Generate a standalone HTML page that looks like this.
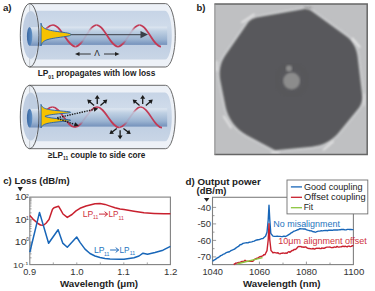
<!DOCTYPE html>
<html><head><meta charset="utf-8">
<style>
html,body{margin:0;padding:0;background:#fff;}
body{width:375px;height:291px;overflow:hidden;}
svg{display:block;}
text{font-family:"Liberation Sans",sans-serif;}
</style></head>
<body>
<svg width="375" height="291" viewBox="0 0 375 291">
<defs>
  <linearGradient id="clad" x1="0" y1="0" x2="0" y2="1">
    <stop offset="0" stop-color="#c6d4e6"/>
    <stop offset="0.3" stop-color="#cfdbea"/>
    <stop offset="0.65" stop-color="#bfcee2"/>
    <stop offset="1" stop-color="#c9d6e6"/>
  </linearGradient>
  <linearGradient id="core" x1="0" y1="0" x2="0" y2="1">
    <stop offset="0" stop-color="#dfe7f1"/>
    <stop offset="0.25" stop-color="#bfd0e3"/>
    <stop offset="0.7" stop-color="#9bb3d1"/>
    <stop offset="1" stop-color="#7491bb"/>
  </linearGradient>
  <linearGradient id="coreend" x1="0" y1="0" x2="1" y2="0">
    <stop offset="0" stop-color="#3a68a3"/>
    <stop offset="1" stop-color="#6090c4"/>
  </linearGradient>
  <linearGradient id="wfade" gradientUnits="userSpaceOnUse" x1="0" y1="24" x2="0" y2="47">
    <stop offset="0" stop-color="#c23a55"/>
    <stop offset="0.12" stop-color="#c23a55"/>
    <stop offset="0.3" stop-color="#c23a55" stop-opacity="0.15"/>
    <stop offset="0.7" stop-color="#c23a55" stop-opacity="0.1"/>
    <stop offset="0.88" stop-color="#c23a55"/>
    <stop offset="1" stop-color="#c23a55"/>
  </linearGradient>
  <filter id="bl" x="-5%" y="-5%" width="110%" height="110%"><feGaussianBlur stdDeviation="0.9"/></filter>
  <filter id="bl2" x="-50%" y="-50%" width="200%" height="200%"><feGaussianBlur stdDeviation="0.9"/></filter>
</defs>

<g transform="translate(0,0)">
<path d="M29.6,3.6 H165.5 A9.8,31.7 0 0 1 165.5,67 H29.6 Z" fill="#edf1f7" stroke="#5a5a5a" stroke-width="0.9"/>
<path d="M29.6,10.8 H165 A6.8,24.4 0 0 1 165,59.6 H29.6 Z" fill="url(#clad)"/>
<rect x="30" y="26.6" width="137.2" height="18.3" fill="url(#core)"/>
<path d="M28.8,45.5 C37.51,45.5 44.29,25 53,25 M75.5,46.6 C83.06,46.6 88.94,25 96.5,25 M118,46.6 C125.74,46.6 131.76,25 139.5,25" fill="none" stroke="url(#wfade)" stroke-width="1.7"/>
<ellipse cx="29.6" cy="35.3" rx="9.3" ry="31.7" fill="#e8edf4" fill-opacity="0.75"/>
<ellipse cx="30.7" cy="34.9" rx="8.2" ry="24" fill="#bccbdf" fill-opacity="0.92"/>
<rect x="29.5" y="27.2" width="11.5" height="18.6" fill="url(#core)"/>
<ellipse cx="29.6" cy="36.4" rx="2.7" ry="9.4" fill="url(#coreend)"/>
<line x1="70" y1="34.7" x2="142" y2="34.7" stroke="#3a3f48" stroke-width="1"/><path d="M148,34.6 L140.5,31 L140.5,38.2 Z" fill="#3a3f48"/>
<path d="M53,25 C61.1,25 67.4,46.6 75.5,46.6 M96.5,25 C104.24,25 110.26,46.6 118,46.6 M139.5,25 C147.24,25 153.26,46.6 161,46.6" fill="none" stroke="#c23a55" stroke-width="1.7"/>
<ellipse cx="29.6" cy="35.3" rx="9.3" ry="31.7" fill="none" stroke="#3c3c3c" stroke-width="0.8"/>
<path d="M41,23.2 L41,23.2 L41.1,23.58 L41.2,23.96 L41.32,24.34 L41.46,24.71 L41.62,25.09 L41.8,25.47 L42.01,25.85 L42.26,26.23 L42.54,26.61 L42.87,26.98 L43.27,27.36 L43.73,27.74 L44.27,28.12 L44.93,28.5 L45.7,28.88 L46.64,29.25 L47.76,29.63 L49.1,30.01 L50.71,30.39 L52.6,30.77 L54.79,31.14 L57.26,31.52 L59.94,31.9 L62.7,32.28 L65.31,32.66 L67.56,33.04 L69.26,33.41 L70.31,33.79 L70.8,34.17 L70.9,34.55 L70.85,34.93 L70.49,35.31 L69.6,35.69 L68.07,36.06 L65.95,36.44 L63.41,36.82 L60.67,37.2 L57.95,37.58 L55.42,37.95 L53.15,38.33 L51.18,38.71 L49.5,39.09 L48.09,39.47 L46.92,39.85 L45.94,40.22 L45.12,40.6 L44.43,40.98 L43.86,41.36 L43.38,41.74 L42.97,42.12 L42.63,42.5 L42.33,42.87 L42.08,43.25 L41.86,43.63 L41.67,44.01 L41.5,44.39 L41.36,44.77 L41.23,45.14 L41.12,45.52 L41.02,45.9 Z" fill="#f6c200" stroke="#1f5fa8" stroke-width="0.9" stroke-linejoin="round"/>
</g>
<g transform="translate(0,81.7)">
<path d="M29.6,3.6 H165.5 A9.8,31.7 0 0 1 165.5,67 H29.6 Z" fill="#edf1f7" stroke="#5a5a5a" stroke-width="0.9"/>
<path d="M29.6,10.8 H165 A6.8,24.4 0 0 1 165,59.6 H29.6 Z" fill="url(#clad)"/>
<rect x="30" y="26.6" width="137.2" height="18.3" fill="url(#core)"/>
<path d="M28.8,45.5 C37.33,45.5 43.97,25.3 52.5,25.3 M74.8,45.5 C82.79,45.5 89.01,25.3 97,25.3 M119.3,45.8 C127.04,45.8 133.06,25.3 140.8,25.3" fill="none" stroke="url(#wfade)" stroke-width="1.7"/>
<ellipse cx="29.6" cy="35.3" rx="9.3" ry="31.7" fill="#e8edf4" fill-opacity="0.75"/>
<ellipse cx="30.7" cy="34.9" rx="8.2" ry="24" fill="#bccbdf" fill-opacity="0.92"/>
<rect x="29.5" y="27.2" width="11.5" height="18.6" fill="url(#core)"/>
<ellipse cx="29.6" cy="36.4" rx="2.7" ry="9.4" fill="url(#coreend)"/>

<path d="M52.5,25.3 C60.53,25.3 66.77,45.5 74.8,45.5 M97,25.3 C105.03,25.3 111.27,45.8 119.3,45.8 M140.8,25.3 C148.43,25.3 154.37,46 162,46" fill="none" stroke="#c23a55" stroke-width="1.7"/>
<ellipse cx="29.6" cy="35.3" rx="9.3" ry="31.7" fill="none" stroke="#3c3c3c" stroke-width="0.8"/>
<path d="M41,22.7 L41,22.7 L41.11,23 L41.23,23.29 L41.36,23.59 L41.52,23.88 L41.69,24.18 L41.89,24.47 L42.12,24.77 L42.39,25.06 L42.7,25.36 L43.06,25.65 L43.49,25.95 L43.99,26.24 L44.59,26.54 L45.31,26.83 L46.18,27.12 L47.24,27.42 L48.52,27.72 L50.09,28.01 L51.99,28.3 L54.29,28.6 L56.99,28.9 L60.05,29.19 L63.3,29.48 L66.4,29.78 L68.88,30.08 L70.31,30.37 L70.58,30.66 L69.82,30.96 L67.89,31.26 L65.08,31.55 L61.86,31.84 L58.66,32.14 L55.75,32.44 L53.23,32.73 L51.11,33.02 L49.36,33.32 L47.92,33.62 L46.75,33.91 L45.78,34.2 L44.98,34.5 L45.22,34.8 L46.07,35.09 L47.1,35.38 L48.36,35.68 L49.89,35.98 L51.75,36.27 L53.99,36.56 L56.65,36.86 L59.67,37.16 L62.91,37.45 L66.05,37.74 L68.63,38.04 L70.2,38.34 L70.6,38.63 L69.98,38.92 L68.18,39.22 L65.44,39.52 L62.25,39.81 L59.03,40.1 L56.07,40.4 L53.5,40.7 L51.34,40.99 L49.55,41.28 L48.08,41.58 L46.87,41.88 L45.88,42.17 L45.07,42.46 L44.39,42.76 L43.82,43.05 L43.34,43.35 L42.94,43.64 L42.6,43.94 L42.3,44.23 L42.05,44.53 L41.83,44.82 L41.63,45.12 L41.47,45.41 L41.32,45.71 L41.19,46 L41.07,46.3 Z" fill="#f6c200" stroke="#1f5fa8" stroke-width="0.9" stroke-linejoin="round"/>
</g>
<line x1="78" y1="54" x2="90.8" y2="54" stroke="#222" stroke-width="0.9"/>
<path d="M75,54 L79.5,52 L79.5,56 Z" fill="#222"/>
<line x1="104" y1="54" x2="116.5" y2="54" stroke="#222" stroke-width="0.9"/>
<path d="M119.5,54 L115,52 L115,56 Z" fill="#222"/>

<line x1="57.2" y1="117.8" x2="93.81" y2="109.5" stroke="#1a1a1a" stroke-width="1.4" stroke-dasharray="1.4,1.1"/><path d="M98.2,108.5 L94.32,111.74 L93.3,107.25 Z" fill="#1a1a1a"/>
<line x1="57.6" y1="118.6" x2="74.54" y2="124.35" stroke="#1a1a1a" stroke-width="1.4" stroke-dasharray="1.4,1.1"/><path d="M78.8,125.8 L73.8,126.53 L75.28,122.18 Z" fill="#1a1a1a"/>
<line x1="97.25" y1="104.1" x2="97.25" y2="98.3" stroke="#1a1a1a" stroke-width="1.3"/><path d="M97.25,95 L99.75,98.8 L94.75,98.8 Z" fill="#1a1a1a"/>
<line x1="94.08" y1="105.54" x2="89.7" y2="101.74" stroke="#1a1a1a" stroke-width="1.3"/><path d="M87.21,99.57 L91.72,100.18 L88.44,103.95 Z" fill="#1a1a1a"/>
<line x1="100.42" y1="105.54" x2="104.8" y2="101.74" stroke="#1a1a1a" stroke-width="1.3"/><path d="M107.29,99.57 L106.06,103.95 L102.78,100.18 Z" fill="#1a1a1a"/>
<line x1="142.7" y1="104.1" x2="142.7" y2="98.3" stroke="#1a1a1a" stroke-width="1.3"/><path d="M142.7,95 L145.2,98.8 L140.2,98.8 Z" fill="#1a1a1a"/>
<line x1="139.53" y1="105.54" x2="135.15" y2="101.74" stroke="#1a1a1a" stroke-width="1.3"/><path d="M132.66,99.57 L137.17,100.18 L133.89,103.95 Z" fill="#1a1a1a"/>
<line x1="145.87" y1="105.54" x2="150.25" y2="101.74" stroke="#1a1a1a" stroke-width="1.3"/><path d="M152.74,99.57 L151.51,103.95 L148.23,100.18 Z" fill="#1a1a1a"/>
<line x1="120.1" y1="130.2" x2="120.1" y2="136" stroke="#1a1a1a" stroke-width="1.3"/><path d="M120.1,139.3 L117.6,135.5 L122.6,135.5 Z" fill="#1a1a1a"/>
<line x1="116.75" y1="128.53" x2="112.11" y2="132.02" stroke="#1a1a1a" stroke-width="1.3"/><path d="M109.48,134 L111.01,129.72 L114.02,133.71 Z" fill="#1a1a1a"/>
<line x1="123.45" y1="128.53" x2="128.09" y2="132.02" stroke="#1a1a1a" stroke-width="1.3"/><path d="M130.72,134 L126.18,133.71 L129.19,129.72 Z" fill="#1a1a1a"/>
<rect x="214.5" y="4" width="152.7" height="150.6" fill="#bfc0c2"/>
<path filter="url(#bl)" d="M247.4,23.4 L248.2,22.3 L249.1,21.3 L250.2,20.4 L251.3,19.6 L252.5,19.0 L253.7,18.4 L255.0,18.0 L256.4,17.6 L303.2,9.2 L304.3,9.1 L305.4,9.1 L306.4,9.2 L307.5,9.3 L308.6,9.6 L309.6,10.0 L310.6,10.5 L311.5,11.1 L345.6,35.7 L347.9,37.5 L350.1,39.6 L352.0,42.0 L353.6,44.5 L355.0,47.1 L356.1,49.9 L356.9,52.8 L357.5,55.7 L362.2,95.2 L362.3,97.0 L362.2,98.8 L362.0,100.6 L361.6,102.4 L361.0,104.1 L360.2,105.8 L359.3,107.3 L358.2,108.8 L339.0,132.2 L336.4,135.2 L333.5,137.8 L330.3,140.2 L326.9,142.2 L323.4,143.9 L319.7,145.2 L315.9,146.1 L312.0,146.7 L275.7,150.2 L275.5,150.2 L275.4,150.2 L275.2,150.2 L275.1,150.2 L275.0,150.1 L274.8,150.1 L274.7,150.0 L274.5,150.0 L247.3,135.6 L243.3,133.1 L239.5,130.3 L236.1,127.0 L233.1,123.4 L230.5,119.5 L228.4,115.4 L226.7,111.0 L225.5,106.4 L220.2,80.2 L219.8,77.0 L219.6,73.7 L219.8,70.4 L220.3,67.2 L221.1,64.1 L222.2,61.0 L223.7,58.1 L225.4,55.3 Z" fill="none" stroke="#cfd0d2" stroke-width="4" stroke-linejoin="round"/>
<path filter="url(#bl)" d="M247.4,23.4 L248.2,22.3 L249.1,21.3 L250.2,20.4 L251.3,19.6 L252.5,19.0 L253.7,18.4 L255.0,18.0 L256.4,17.6 L303.2,9.2 L304.3,9.1 L305.4,9.1 L306.4,9.2 L307.5,9.3 L308.6,9.6 L309.6,10.0 L310.6,10.5 L311.5,11.1 L345.6,35.7 L347.9,37.5 L350.1,39.6 L352.0,42.0 L353.6,44.5 L355.0,47.1 L356.1,49.9 L356.9,52.8 L357.5,55.7 L362.2,95.2 L362.3,97.0 L362.2,98.8 L362.0,100.6 L361.6,102.4 L361.0,104.1 L360.2,105.8 L359.3,107.3 L358.2,108.8 L339.0,132.2 L336.4,135.2 L333.5,137.8 L330.3,140.2 L326.9,142.2 L323.4,143.9 L319.7,145.2 L315.9,146.1 L312.0,146.7 L275.7,150.2 L275.5,150.2 L275.4,150.2 L275.2,150.2 L275.1,150.2 L275.0,150.1 L274.8,150.1 L274.7,150.0 L274.5,150.0 L247.3,135.6 L243.3,133.1 L239.5,130.3 L236.1,127.0 L233.1,123.4 L230.5,119.5 L228.4,115.4 L226.7,111.0 L225.5,106.4 L220.2,80.2 L219.8,77.0 L219.6,73.7 L219.8,70.4 L220.3,67.2 L221.1,64.1 L222.2,61.0 L223.7,58.1 L225.4,55.3 Z" fill="#58595b"/>
<circle cx="291.6" cy="80" r="15" fill="none" stroke="#545454" stroke-width="4" opacity="0.25" filter="url(#bl)"/>
<circle cx="291.6" cy="81" r="8.5" fill="#8c8c8c" filter="url(#bl)"/>
<circle cx="289" cy="68.4" r="3.1" fill="#8c8c8c" filter="url(#bl)"/>

<g filter="url(#bl2)"><line x1="242" y1="22.4" x2="254" y2="14.4" stroke="#f0f0f0" stroke-width="1.5" stroke-linecap="round" opacity="0.9"/><line x1="352.5" y1="38.4" x2="359.7" y2="47.1" stroke="#f0f0f0" stroke-width="1.5" stroke-linecap="round" opacity="1"/><line x1="364.2" y1="94.2" x2="364.2" y2="105.5" stroke="#f0f0f0" stroke-width="1.5" stroke-linecap="round" opacity="0.6"/><line x1="323.6" y1="149.8" x2="333" y2="141.6" stroke="#f0f0f0" stroke-width="1.5" stroke-linecap="round" opacity="0.9"/><line x1="271.5" y1="152.6" x2="279" y2="152.8" stroke="#f0f0f0" stroke-width="1.5" stroke-linecap="round" opacity="0.9"/><line x1="223.8" y1="116.4" x2="231" y2="127.7" stroke="#f0f0f0" stroke-width="1.5" stroke-linecap="round" opacity="0.9"/><line x1="216.6" y1="61.4" x2="216.6" y2="70.7" stroke="#f0f0f0" stroke-width="1.5" stroke-linecap="round" opacity="0.8"/><line x1="304" y1="7.2" x2="312" y2="8" stroke="#444" stroke-width="1" opacity="0.6"/></g>
<path d="M214.5,3.9 H367.2 V154.6 H214.5" fill="none" stroke="#666" stroke-width="1.5"/><line x1="214.9" y1="3.5" x2="214.9" y2="155" stroke="#8a8a8a" stroke-width="1"/>
<path d="M17.6,186.9 H22.9 L20.25,191.2 Z" fill="#222"/>
<rect x="29.8" y="197.1" width="140.6" height="67.5" fill="none" stroke="#808080" stroke-width="1.1"/>
<path d="M29.8,212.83 h1.8 M29.8,208.86 h1.8 M29.8,206.05 h1.8 M29.8,203.87 h1.8 M29.8,202.09 h1.8 M29.8,200.59 h1.8 M29.8,199.28 h1.8 M29.8,198.13 h1.8 M29.8,219.6 h3 M29.8,235.33 h1.8 M29.8,231.36 h1.8 M29.8,228.55 h1.8 M29.8,226.37 h1.8 M29.8,224.59 h1.8 M29.8,223.09 h1.8 M29.8,221.78 h1.8 M29.8,220.63 h1.8 M29.8,242.1 h3 M29.8,257.83 h1.8 M29.8,253.86 h1.8 M29.8,251.05 h1.8 M29.8,248.87 h1.8 M29.8,247.09 h1.8 M29.8,245.59 h1.8 M29.8,244.28 h1.8 M29.8,243.13 h1.8 M53.3,264.6 v-2.2 M76.8,264.6 v-2.2 M100.3,264.6 v-2.2 M123.8,264.6 v-2.2 M147.3,264.6 v-2.2" stroke="#808080" stroke-width="0.7" fill="none"/>
<path d="M29.8,215.5 L33,219.1 L38,223.5 L40.5,225 L43.5,225.3 L46,223.2 L49,219.6 L52.5,209.3 L54,207.7 L58.5,206.2 L61,210.4 L63,214 L67.3,217.4 L72,214.5 L76,210.9 L80,208.3 L86,206 L90,205 L95,203.8 L100,203.6 L105,204.4 L110,206.1 L115,207.8 L120,208.9 L124,209.6 L134,211.3 L144,212.8 L154,213.4 L164,213.8 L170.4,213.8" fill="none" stroke="#c8202e" stroke-width="1.5" stroke-linejoin="round"/>
<path d="M29.8,252.2 L39.5,212.4 L48.6,243.3 L58.1,229.7 L62.7,243.1 L67.3,247.3 L76.7,237 L80,242.4 L85,249.1 L90,253.5 L95,256 L100,257.5 L105,258.4 L110,259 L120,259.3 L124,259.2 L134,257.7 L139,256 L143,253.2 L147.5,254.3 L155,252.5 L163,250.2 L170.4,246.4" fill="none" stroke="#1866b8" stroke-width="1.5" stroke-linejoin="round"/>
<path d="M203.9,198 H209.4 L206.65,201.7 Z" fill="#222"/>
<rect x="212.5" y="197.3" width="140.9" height="67.3" fill="none" stroke="#808080" stroke-width="1.1"/>
<path d="M212.5,207.4 h3.6 M212.5,223.9 h3.6 M212.5,240.4 h3.6 M212.5,256.9 h3.6 M212.5,215.65 h2 M212.5,232.15 h2 M212.5,248.65 h2 M259.4,264.6 v-3 M306.4,264.6 v-3 M236,264.6 v-2 M283,264.6 v-2 M330,264.6 v-2" stroke="#808080" stroke-width="0.8" fill="none"/>
<path d="M212.5,261.19 L214,260.09 L215.5,259.39 L217,258.04 L218.25,257.52 L219.5,256.62 L220.75,255.63 L222,255.1 L223.25,254.2 L224.5,253.81 L225.75,252.97 L227,252.35 L228.25,252 L229.5,251.7 L230.75,250.72 L232,250.23 L233.25,249.7 L234.5,249.12 L235.75,248.12 L237,247.24 L238.5,246.44 L240,244.73 L241.5,244.47 L243,243.37 L244.25,243.09 L245.5,242.87 L246.75,242.79 L248,242.89 L249.25,242.21 L250.5,242.15 L251.75,241.88 L253,241.42 L254.25,241.13 L255.5,240.44 L256.75,240.04 L258,239.72 L259.25,239.63 L260.5,239.11 L261.75,238.66 L263,238.45 L264.25,237.32 L265.5,236.3 L267,232.2 L268.2,220 L269,205.2 L269.8,220 L270.8,233.5 L273,236.08 L274.4,236.42 L275.8,236.4 L277.2,236.17 L278.6,236.4 L280,236.42 L281.34,236.59 L282.68,236.46 L284.02,236.15 L285.36,236.53 L286.7,235.97 L288.35,234.9 L290,233.85 L291.25,232.77 L292.5,232.24 L293.75,231.25 L295,230.9 L296.25,230.43 L297.5,229.79 L298.75,229.45 L300,228.59 L301.25,228.89 L302.5,228.91 L303.75,228.97 L305,228.97 L306.25,229.65 L307.5,230.17 L308.75,230.33 L310,230.9 L311.25,230.81 L312.5,231.47 L313.75,231.71 L315,232.2 L316.25,231.87 L317.5,231.32 L318.75,231.16 L320,231.1 L321.25,230.64 L322.5,230.83 L323.75,230.58 L325,230.47 L326.25,230.36 L327.5,230.71 L328.75,230.25 L330,230.25 L331.25,230.23 L332.5,230.42 L333.75,229.85 L335,229.97 L336.25,229.93 L337.5,230.03 L338.75,229.89 L340,229.82 L341.22,229.47 L342.44,229.55 L343.65,229.52 L344.87,229.83 L346.09,229.87 L347.31,229.39 L348.53,229.41 L349.75,229.44 L350.96,229.44 L352.18,229.59 L353.4,229.6" fill="none" stroke="#1866b8" stroke-width="1.4" stroke-linejoin="round"/>
<path d="M233.7,264.6 L234.75,263.81 L235.8,263.09 L236.85,263.11 L237.9,262.62 L238.95,262.41 L240,262.4 L241,261.89 L242,261.48 L243,261.37 L244,261.21 L245,260.31 L246,261.29 L247,261.21 L248,261.36 L249,261.33 L250,261.15 L251,261.42 L252,261.36 L253,261.21 L254,259.85 L255,259.12 L256,258.78 L257,258.23 L258,257.92 L259,257.21 L260,256.75 L261,256.52 L262,256.06 L263,255.65 L264,254.58 L265,254.81 L266,252.55 L267,250.7 L268.2,240 L269,223.7 L269.8,240 L271,250.5 L272,251.65 L273,252.93 L274,252.48 L275,252.67 L276,252.85 L277,252.94 L278,252.74 L279,253.61 L280,253.84 L281,253.32 L282,253.4 L283,253.02 L284,253.1 L285,253.43 L286,252.98 L287,253.24 L288,252.15 L289,251.64 L290,252.3 L291,251.37 L292,250.49 L293,250.47 L294,249.44 L295,249.53 L296,249.06 L297,247.97 L298,246.82 L299,246.41 L300,246.6 L301,246.45 L302,247.18 L303,246.99 L304,247.34 L305,246.91 L306,247.04 L307,247.92 L308,248.35 L309,248.45 L310,248.64 L311,248.81 L312,248.88 L313,248.48 L314,248.96 L315,248.94 L316,248.42 L317,248.26 L318,248.38 L319,248.2 L320,248.51 L321,248.64 L322,247.92 L323,248.3 L324,248.2 L325,248 L326,247.33 L327,247.15 L328,247.14 L329,247.09 L330,247.07 L331,247.46 L332,247.68 L333,247.53 L334,247.06 L335,247.17 L336,247.25 L337,246.38 L338,246.94 L339,247.13 L340,246.91 L341.03,246.83 L342.06,246.48 L343.09,246.11 L344.12,246.73 L345.15,246.18 L346.18,246.65 L347.22,246.8 L348.25,246.12 L349.28,246.08 L350.31,246.63 L351.34,246.34 L352.37,245.68 L353.4,246" fill="none" stroke="#c8202e" stroke-width="1.4" stroke-linejoin="round"/>
<line x1="237.5" y1="263.7" x2="262.5" y2="257.6" stroke="#8cc63f" stroke-width="1.4"/>
<rect x="287" y="180" width="80.8" height="33.9" fill="#fff" stroke="#707070" stroke-width="0.9"/>
<line x1="290.9" y1="186.9" x2="302" y2="186.9" stroke="#1866b8" stroke-width="1.3"/>
<line x1="290.9" y1="197.3" x2="302" y2="197.3" stroke="#c8202e" stroke-width="1.3"/>
<line x1="290.9" y1="207.7" x2="302" y2="207.7" stroke="#8cc63f" stroke-width="1.3"/>
<g transform="translate(0,0)"><path d="M99,214.1 H107.3 M104.6,211.7 L107.6,214.1 L104.6,216.5" fill="none" stroke="#c8202e" stroke-width="0.95"/></g>
<g transform="translate(11.1,35.9)"><path d="M99,214.1 H107.3 M104.6,211.7 L107.6,214.1 L104.6,216.5" fill="none" stroke="#1866b8" stroke-width="0.95"/></g>
<text x="2.95" y="11.2" font-size="9.51" font-weight="bold" font-family="'Liberation Serif',serif" textLength="8.67" lengthAdjust="spacingAndGlyphs" fill="#222">a)</text>
<text x="196.55" y="11.45" font-size="9.39" font-weight="bold"  textLength="8.96" lengthAdjust="spacingAndGlyphs" fill="#222">b)</text>
<text x="37.7" y="76.35" font-size="9.62" font-weight="bold" textLength="117.69" lengthAdjust="spacingAndGlyphs" fill="#222"><tspan dy="0">LP</tspan><tspan font-size="5.77" dy="2.69">01</tspan><tspan dy="-2.69"> propagates with low loss</tspan></text>
<text x="47.9" y="157.7" font-size="8.94" font-weight="bold" textLength="97.43" lengthAdjust="spacingAndGlyphs" fill="#222"><tspan dy="0">≥LP</tspan><tspan font-size="5.36" dy="2.5">11</tspan><tspan dy="-2.5"> couple to side core</tspan></text>
<text x="94.2" y="56.2" font-size="8.4"  font-family="'Liberation Serif',serif" textLength="5.58" lengthAdjust="spacingAndGlyphs" fill="#222">Λ</text>
<text x="3.3" y="184.1" font-size="8.5" font-weight="bold"  textLength="66.28" lengthAdjust="spacingAndGlyphs" fill="#222">c) Loss (dB/m)</text>
<text x="185.5" y="184.85" font-size="8.82" font-weight="bold"  textLength="75.35" lengthAdjust="spacingAndGlyphs" fill="#222">d) Output power</text>
<text x="196.6" y="194.2" font-size="8.8" font-weight="bold" textLength="29.8" lengthAdjust="spacingAndGlyphs" fill="#222">(dB/m)</text>
<text x="60" y="287" font-size="9.56" font-weight="bold"  textLength="78.06" lengthAdjust="spacingAndGlyphs" fill="#222">Wavelength (μm)</text>
<text x="243" y="286.7" font-size="9.77" font-weight="bold"  textLength="77.56" lengthAdjust="spacingAndGlyphs" fill="#222">Wavelength (nm)</text>
<text x="14.95" y="200.45" font-size="8.36"   textLength="11.63" lengthAdjust="spacingAndGlyphs" fill="#333">10</text>
<text x="14.95" y="222.95" font-size="8.78"   textLength="11.62" lengthAdjust="spacingAndGlyphs" fill="#333">10</text>
<text x="14.75" y="245.3" font-size="8.5"   textLength="12.07" lengthAdjust="spacingAndGlyphs" fill="#333">10</text>
<text x="13.05" y="268" font-size="7.93"   textLength="10.41" lengthAdjust="spacingAndGlyphs" fill="#333">10</text>
<text x="26.05" y="197.65" font-size="5"    fill="#333">2</text>
<text x="25.95" y="219.5" font-size="5"    fill="#333">1</text>
<text x="26.25" y="241.45" font-size="4.86"    fill="#333">0</text>
<text x="23.25" y="265.3" font-size="3.71"   textLength="5.1" lengthAdjust="spacingAndGlyphs" fill="#333">-1</text>
<text x="23.25" y="275" font-size="9.35"   textLength="12.8" lengthAdjust="spacingAndGlyphs" fill="#333">0.9</text>
<text x="70.25" y="275" font-size="9.35"   textLength="13.45" lengthAdjust="spacingAndGlyphs" fill="#333">1.0</text>
<text x="117.2" y="275" font-size="9.35"   textLength="12.65" lengthAdjust="spacingAndGlyphs" fill="#333">1.1</text>
<text x="164.05" y="275" font-size="9.35"   textLength="13.45" lengthAdjust="spacingAndGlyphs" fill="#333">1.2</text>
<text x="197.45" y="210.65" font-size="8.78"   textLength="13.67" lengthAdjust="spacingAndGlyphs" fill="#333">-40</text>
<text x="197.45" y="227.15" font-size="8.78"   textLength="13.67" lengthAdjust="spacingAndGlyphs" fill="#333">-50</text>
<text x="197.45" y="243.65" font-size="8.78"   textLength="13.67" lengthAdjust="spacingAndGlyphs" fill="#333">-60</text>
<text x="197.45" y="260.15" font-size="8.78"   textLength="13.67" lengthAdjust="spacingAndGlyphs" fill="#333">-70</text>
<text x="202.4" y="274.9" font-size="9.63"   textLength="20.52" lengthAdjust="spacingAndGlyphs" fill="#333">1040</text>
<text x="249.1" y="274.9" font-size="9.63"   textLength="21.02" lengthAdjust="spacingAndGlyphs" fill="#333">1060</text>
<text x="296.1" y="274.9" font-size="9.63"   textLength="20.97" lengthAdjust="spacingAndGlyphs" fill="#333">1080</text>
<text x="343.6" y="274.9" font-size="9.63"   textLength="20.7" lengthAdjust="spacingAndGlyphs" fill="#333">1100</text>
<text x="303.95" y="190" font-size="9.67"   textLength="58.58" lengthAdjust="spacingAndGlyphs" fill="#222">Good coupling</text>
<text x="303.95" y="200.3" font-size="9.46"   textLength="61.69" lengthAdjust="spacingAndGlyphs" fill="#222">Offset coupling</text>
<text x="303.7" y="210.2" font-size="8.84"   textLength="9.36" lengthAdjust="spacingAndGlyphs" fill="#222">Fit</text>
<text x="273.3" y="226.75" font-size="9.14"   textLength="66.67" lengthAdjust="spacingAndGlyphs" fill="#2674be">No misalignment</text>
<text x="278.25" y="244.4" font-size="9.14"   textLength="88.61" lengthAdjust="spacingAndGlyphs" fill="#cf3340">10μm alignment offset</text>
<text x="82.75" y="216.8" font-size="9.36"   textLength="10.54" lengthAdjust="spacingAndGlyphs" fill="#cf3340">LP</text>
<text x="93.1" y="219.45" font-size="5.43"   textLength="5.19" lengthAdjust="spacingAndGlyphs" fill="#cf3340">11</text>
<text x="108.4" y="216.8" font-size="9.5"   textLength="9.98" lengthAdjust="spacingAndGlyphs" fill="#cf3340">LP</text>
<text x="118.5" y="219.6" font-size="5.29"   textLength="5.43" lengthAdjust="spacingAndGlyphs" fill="#cf3340">11</text>
<text x="93.9" y="252.65" font-size="9.36"   textLength="10.54" lengthAdjust="spacingAndGlyphs" fill="#2674be">LP</text>
<text x="104" y="255.55" font-size="5.43"   textLength="5.44" lengthAdjust="spacingAndGlyphs" fill="#2674be">11</text>
<text x="119.55" y="252.65" font-size="9.5"   textLength="9.97" lengthAdjust="spacingAndGlyphs" fill="#2674be">LP</text>
<text x="129.65" y="255.45" font-size="5.29"   textLength="5.43" lengthAdjust="spacingAndGlyphs" fill="#2674be">11</text>
</svg>
</body></html>
